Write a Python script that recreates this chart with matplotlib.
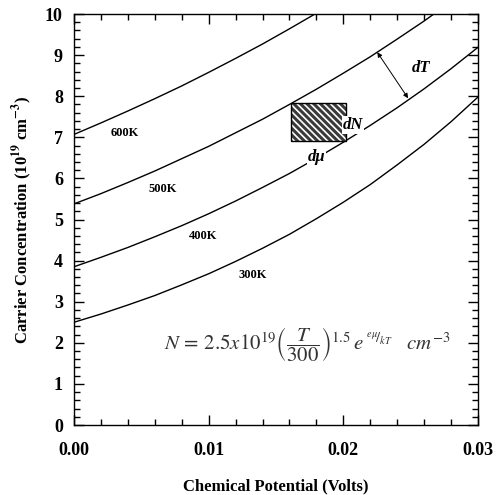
import matplotlib
matplotlib.use("Agg")
import matplotlib.pyplot as plt
from matplotlib.patches import Rectangle

# chemical potential (V) and carrier concentration (1e19 cm^-3)
mu = [0.000, 0.002, 0.004, 0.006, 0.008, 0.010, 0.012, 0.014,
      0.016, 0.018, 0.020, 0.022, 0.024, 0.026, 0.028, 0.030]
n_300 = [2.50, 2.70, 2.92, 3.15, 3.41, 3.68, 3.98, 4.30,
         4.64, 5.02, 5.42, 5.85, 6.33, 6.83, 7.38, 7.98]
n_400 = [3.85, 4.08, 4.32, 4.58, 4.85, 5.14, 5.45, 5.78,
         6.12, 6.49, 6.88, 7.29, 7.72, 8.18, 8.67, 9.19]
n_500 = [5.38, 5.63, 5.90, 6.18, 6.48, 6.78, 7.11, 7.44,
         7.80, 8.17, 8.56, 8.96, 9.39, 9.83, 10.30, 10.79]
n_600 = [7.07, 7.35, 7.64, 7.94, 8.25, 8.58, 8.92, 9.27,
         9.64, 10.02, 10.41, 10.82, 11.25, 11.69, 12.15, 12.63]

curves = [n_300, n_400, n_500, n_600]
curve_labels = ["300K", "400K", "500K", "600K"]
label_pos = [(0.01326, 3.65), (0.00956, 4.60), (0.00659, 5.74), (0.00378, 7.10)]

# shaded dN x dmu box and dT arrow ends
box_mu = (0.01615, 0.02022)
box_n = (6.91, 7.83)
dT_from = (0.02252, 9.07)
dT_to = (0.02481, 7.95)

plt.rcParams['font.family'] = ['Liberation Serif', 'DejaVu Serif']
plt.rcParams['mathtext.fontset'] = 'stix'
plt.rcParams['hatch.linewidth'] = 1.2

fig = plt.figure(figsize=(5.0, 4.95), dpi=100)
ax = fig.add_axes([0.148, 0.1414, 0.808, 0.8303])

for n, lab, pos in zip(curves, curve_labels, label_pos):
    ax.plot(mu, n, color='black', linewidth=1.0)
    ax.text(pos[0], pos[1], lab, fontsize=9, fontweight='bold',
            ha='center', va='center')

# hatched rectangle
ax.add_patch(Rectangle((box_mu[0], box_n[0]), box_mu[1] - box_mu[0], box_n[1] - box_n[0],
                       facecolor='#3a3a3a', edgecolor='white', hatch='\\' * 5, linewidth=0, zorder=3))
ax.add_patch(Rectangle((box_mu[0], box_n[0]), box_mu[1] - box_mu[0], box_n[1] - box_n[0],
                       fill=False, edgecolor='black', linewidth=1.0, zorder=4))

ax.annotate('', xy=dT_to, xytext=dT_from,
            arrowprops=dict(arrowstyle='<|-|>', color='black', lw=0.7,
                            mutation_scale=7, shrinkA=0, shrinkB=0))
bi = dict(fontsize=12, fontweight='bold', fontstyle='italic')
ax.text(0.02511, 8.69, 'dT', ha='left', va='center', **bi)
ax.text(0.0207, 7.30, 'dN', ha='center', va='center',
        bbox=dict(facecolor='white', edgecolor='none', pad=0.5), zorder=5, **bi)
ax.text(0.0180, 6.52, 'd\u03bc', ha='center', va='center',
        bbox=dict(facecolor='white', edgecolor='none', pad=0.5), zorder=5, **bi)

ax.text(0.0173, 1.95,
        r'$N\,=\,2.5x10^{19}\left(\dfrac{T}{300}\right)^{1.5}\,e^{\;{}^{e\mu}\!/_{kT}}\quad cm^{-3}$',
        fontsize=15, ha='center', va='center', color='#333333')

ax.set_xlim(0, 0.03)
ax.set_ylim(0, 10)
ax.set_xticks([0.0, 0.01, 0.02, 0.03])
ax.set_xticklabels(['0.00', '0.01', '0.02', '0.03'])
ax.set_xticks([i * 0.002 for i in range(16)], minor=True)
ax.set_yticks(range(11))
ax.set_yticks([i * 0.2 for i in range(51)], minor=True)
ax.tick_params(which='both', direction='in', top=True, right=True, width=1.0)
ax.tick_params(which='major', length=7, labelsize=13)
ax.tick_params(axis='x', which='major', pad=12)
ax.tick_params(axis='y', which='major', pad=8)
ax.tick_params(which='minor', length=4)
for lbl in ax.get_xticklabels() + ax.get_yticklabels():
    lbl.set_fontweight('bold')
for s in ax.spines.values():
    s.set_linewidth(1.0)

ax.set_xlabel('Chemical Potential (Volts)', fontsize=12, fontweight='bold', labelpad=14)
ax.set_ylabel(r'Carrier Concentration (10$^{\mathbf{19}}$ cm$^{\mathbf{-3}}$)',
              fontsize=12, fontweight='bold', labelpad=8)

fig.savefig('out.png', dpi=100)
